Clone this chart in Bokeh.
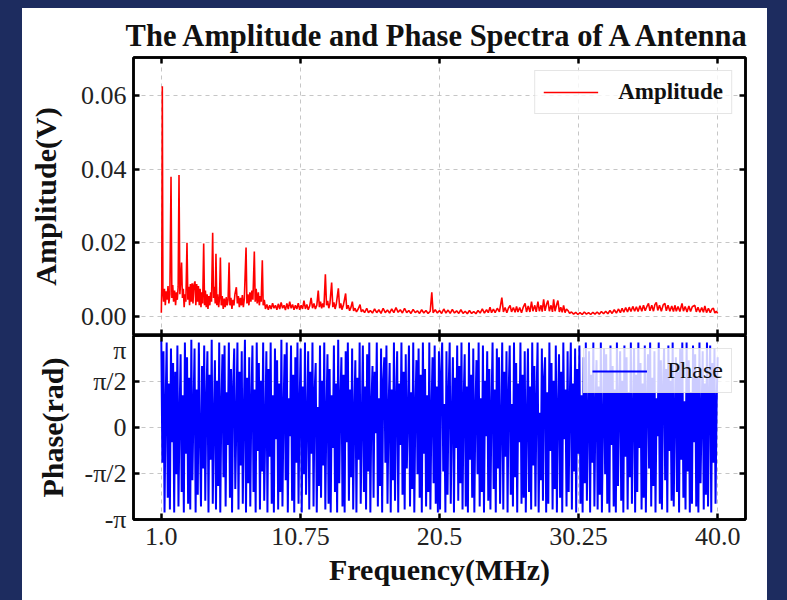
import math
import numpy as np
from bokeh.plotting import figure
from bokeh.models import Range1d, LinearAxis, FixedTicker, CustomJSTickFormatter
from bokeh.layouts import column
from bokeh.embed import file_html
from bokeh.resources import INLINE

# ---------------- data ----------------
title_text = "The Amplitude and Phase Spectra of A Antenna"

# amplitude spectrum, 1.0 - 8.3 MHz
amp_freq_a = [
    1.00, 1.03, 1.07, 1.11, 1.16, 1.22, 1.28, 1.34, 1.40, 1.47,
    1.53, 1.60, 1.68, 1.74, 1.80, 1.86, 1.93, 2.00, 2.06, 2.12,
    2.18, 2.24, 2.30, 2.36, 2.42, 2.48, 2.54, 2.60, 2.66, 2.72,
    2.80, 2.86, 2.92, 2.98, 3.04, 3.10, 3.16, 3.22, 3.28, 3.36,
    3.42, 3.48, 3.54, 3.60, 3.66, 3.72, 3.78, 3.84, 3.90, 3.97,
    4.03, 4.09, 4.15, 4.21, 4.27, 4.33, 4.40, 4.46, 4.52, 4.60,
    4.66, 4.72, 4.78, 4.83, 4.89, 4.95, 5.02, 5.08, 5.14, 5.20,
    5.27, 5.34, 5.41, 5.48, 5.55, 5.62, 5.68, 5.75, 5.81, 5.88,
    5.95, 6.02, 6.09, 6.16, 6.26, 6.33, 6.40, 6.47, 6.54, 6.61,
    6.68, 6.75, 6.82, 6.94, 7.00, 7.07, 7.14, 7.21, 7.28, 7.35,
    7.42, 7.52, 7.58, 7.65, 7.72, 7.80, 7.87, 7.94, 8.00, 8.08,
    8.14, 8.22, 8.30,
]
amp_vals_a = [
    0.0010, 0.0080, 0.0625, 0.0070, 0.0040, 0.0075, 0.0030, 0.0068, 0.0045, 0.0082,
    0.0035, 0.0060, 0.0379, 0.0050, 0.0085, 0.0040, 0.0070, 0.0030, 0.0065, 0.0045,
    0.0080, 0.0384, 0.0060, 0.0095, 0.0146, 0.0050, 0.0075, 0.0025, 0.0060, 0.0040,
    0.0200, 0.0045, 0.0080, 0.0030, 0.0088, 0.0040, 0.0090, 0.0035, 0.0085, 0.0095,
    0.0030, 0.0088, 0.0040, 0.0082, 0.0030, 0.0075, 0.0025, 0.0065, 0.0035, 0.0198,
    0.0030, 0.0070, 0.0025, 0.0060, 0.0020, 0.0055, 0.0030, 0.0065, 0.0040, 0.0227,
    0.0050, 0.0080, 0.0035, 0.0170, 0.0030, 0.0060, 0.0025, 0.0050, 0.0160, 0.0030,
    0.0055, 0.0020, 0.0048, 0.0025, 0.0052, 0.0030, 0.0045, 0.0146, 0.0030, 0.0050,
    0.0020, 0.0045, 0.0030, 0.0060, 0.0079, 0.0035, 0.0055, 0.0025, 0.0050, 0.0030,
    0.0058, 0.0025, 0.0048, 0.0187, 0.0035, 0.0060, 0.0030, 0.0065, 0.0040, 0.0070,
    0.0045, 0.0176, 0.0040, 0.0075, 0.0035, 0.0065, 0.0030, 0.0055, 0.0040, 0.0152,
    0.0030, 0.0045, 0.0020,
]

# amplitude spectrum, 8.4 - 15.5 MHz
amp_freq_b = [
    8.40, 8.50, 8.60, 8.70, 8.80, 8.90, 9.00, 9.10, 9.20, 9.30,
    9.40, 9.50, 9.60, 9.70, 9.80, 9.90, 10.00, 10.10, 10.20, 10.30,
    10.40, 10.50, 10.60, 10.70, 10.80, 10.90, 11.00, 11.10, 11.20, 11.30,
    11.40, 11.50, 11.60, 11.70, 11.80, 11.90, 12.00, 12.08, 12.16, 12.24,
    12.32, 12.40, 12.50, 12.58, 12.66, 12.74, 12.82, 12.94, 13.02, 13.10,
    13.18, 13.26, 13.41, 13.50, 13.58, 13.66, 13.76, 13.92, 14.00, 14.10,
    14.20, 14.30, 14.39, 14.48, 14.58, 14.68, 14.80, 14.93, 15.02, 15.12,
    15.25, 15.40, 15.52,
]
amp_vals_b = [
    0.0032, 0.0018, 0.0030, 0.0020, 0.0036, 0.0022, 0.0030, 0.0018, 0.0034, 0.0020,
    0.0038, 0.0022, 0.0030, 0.0017, 0.0035, 0.0020, 0.0040, 0.0022, 0.0032, 0.0018,
    0.0030, 0.0020, 0.0036, 0.0018, 0.0030, 0.0020, 0.0043, 0.0020, 0.0032, 0.0018,
    0.0028, 0.0050, 0.0022, 0.0035, 0.0020, 0.0030, 0.0070, 0.0025, 0.0040, 0.0022,
    0.0035, 0.0025, 0.0114, 0.0030, 0.0042, 0.0022, 0.0035, 0.0092, 0.0025, 0.0038,
    0.0020, 0.0032, 0.0076, 0.0022, 0.0035, 0.0018, 0.0030, 0.0062, 0.0020, 0.0030,
    0.0015, 0.0025, 0.0040, 0.0015, 0.0022, 0.0012, 0.0020, 0.0032, 0.0012, 0.0018,
    0.0010, 0.0022, 0.0010,
]

# amplitude spectrum, 15.6 - 29.9 MHz
amp_freq_c = [
    15.65, 15.80, 15.95, 16.10, 16.25, 16.40, 16.55, 16.70, 16.85, 17.00,
    17.15, 17.30, 17.45, 17.60, 17.75, 17.90, 18.05, 18.20, 18.35, 18.50,
    18.65, 18.80, 18.95, 19.10, 19.25, 19.40, 19.55, 19.70, 19.85, 19.96,
    20.05, 20.20, 20.35, 20.50, 20.65, 20.80, 20.95, 21.10, 21.25, 21.40,
    21.55, 21.70, 21.85, 22.00, 22.15, 22.30, 22.45, 22.60, 22.75, 22.90,
    23.05, 23.20, 23.35, 23.50, 23.65, 23.80, 23.92, 24.04, 24.15, 24.28,
    24.40, 24.55, 24.70, 24.87, 24.98, 25.10, 25.22, 25.33, 25.45, 25.55,
    25.68, 25.80, 25.90, 26.00, 26.12, 26.25, 26.38, 26.50, 26.60, 26.72,
    26.84, 26.95, 27.05, 27.18, 27.28, 27.40, 27.50, 27.62, 27.70, 27.80,
    27.90, 28.00, 28.10, 28.20, 28.32, 28.42, 28.50, 28.60, 28.70, 28.80,
    28.90, 29.00, 29.10, 29.20, 29.30, 29.40, 29.50, 29.62, 29.75, 29.90,
]
amp_vals_c = [
    0.0016, 0.0009, 0.0020, 0.0010, 0.0018, 0.0008, 0.0022, 0.0010, 0.0017, 0.0009,
    0.0020, 0.0010, 0.0024, 0.0011, 0.0018, 0.0009, 0.0022, 0.0010, 0.0016, 0.0008,
    0.0019, 0.0010, 0.0015, 0.0008, 0.0018, 0.0009, 0.0016, 0.0008, 0.0014, 0.0065,
    0.0010, 0.0018, 0.0009, 0.0016, 0.0008, 0.0020, 0.0009, 0.0017, 0.0008, 0.0019,
    0.0009, 0.0015, 0.0008, 0.0018, 0.0008, 0.0014, 0.0007, 0.0016, 0.0008, 0.0013,
    0.0007, 0.0016, 0.0009, 0.0020, 0.0009, 0.0018, 0.0010, 0.0025, 0.0010, 0.0020,
    0.0010, 0.0022, 0.0012, 0.0051, 0.0012, 0.0024, 0.0010, 0.0022, 0.0030, 0.0012,
    0.0024, 0.0011, 0.0027, 0.0012, 0.0024, 0.0010, 0.0026, 0.0035, 0.0012, 0.0028,
    0.0012, 0.0040, 0.0014, 0.0030, 0.0012, 0.0040, 0.0014, 0.0030, 0.0013, 0.0046,
    0.0015, 0.0032, 0.0043, 0.0014, 0.0030, 0.0012, 0.0046, 0.0014, 0.0030, 0.0043,
    0.0012, 0.0025, 0.0011, 0.0030, 0.0010, 0.0020, 0.0016, 0.0008, 0.0012, 0.0006,
]

# amplitude spectrum, 30.0 - 40.0 MHz
amp_freq_d = [
    30.05, 30.20, 30.35, 30.50, 30.65, 30.80, 30.95, 31.10, 31.25, 31.40,
    31.55, 31.70, 31.85, 32.00, 32.15, 32.30, 32.45, 32.60, 32.75, 32.90,
    33.05, 33.18, 33.30, 33.42, 33.55, 33.68, 33.80, 33.92, 34.05, 34.18,
    34.30, 34.42, 34.55, 34.68, 34.80, 34.92, 35.05, 35.15, 35.25, 35.38,
    35.50, 35.60, 35.70, 35.80, 35.92, 36.05, 36.18, 36.30, 36.40, 36.52,
    36.65, 36.78, 36.90, 37.00, 37.10, 37.22, 37.35, 37.50, 37.60, 37.72,
    37.85, 37.98, 38.10, 38.22, 38.40, 38.50, 38.62, 38.75, 38.88, 39.00,
    39.10, 39.22, 39.35, 39.48, 39.60, 39.70, 39.80, 39.90, 40.00,
]
amp_vals_d = [
    0.0011, 0.0005, 0.0010, 0.0005, 0.0012, 0.0006, 0.0010, 0.0005, 0.0011, 0.0006,
    0.0012, 0.0006, 0.0013, 0.0007, 0.0014, 0.0007, 0.0016, 0.0008, 0.0018, 0.0009,
    0.0020, 0.0010, 0.0022, 0.0011, 0.0024, 0.0012, 0.0025, 0.0013, 0.0027, 0.0014,
    0.0026, 0.0013, 0.0029, 0.0014, 0.0030, 0.0015, 0.0028, 0.0035, 0.0015, 0.0030,
    0.0014, 0.0032, 0.0038, 0.0016, 0.0030, 0.0014, 0.0031, 0.0035, 0.0015, 0.0030,
    0.0014, 0.0028, 0.0013, 0.0030, 0.0014, 0.0027, 0.0013, 0.0035, 0.0014, 0.0027,
    0.0012, 0.0028, 0.0013, 0.0026, 0.0030, 0.0012, 0.0025, 0.0011, 0.0024, 0.0011,
    0.0028, 0.0010, 0.0022, 0.0010, 0.0020, 0.0022, 0.0009, 0.0014, 0.0008,
]

# phase (rad), uniformly sampled, first half of the band (1.0 - 20.5 MHz)
phase_vals_a = [
    2.95, -1.2, 2.6, -2.9, 0.8, 2.9, -2.4, 1.5, -2.8, 2.7,
    -0.5, 2.2, -2.9, 1.9, -1.6, 2.8, -2.7, 0.4, 2.5, -2.2,
    1.1, -2.9, 2.9, -0.9, 2.4, -2.6, 1.7, -2.8, 3.0, -1.8,
    0.6, 2.7, -2.9, 1.3, -2.3, 2.9, -0.2, -2.7, 2.1, -1.4,
    2.8, -2.5, 0.9, 2.6, -2.9, 1.8, -1.1, 3.0, -2.6, 0.3,
    2.3, -2.8, 1.6, -2.0, 2.9, -2.9, 0.7, 2.5, -1.7, 2.8,
    -2.7, 1.2, -0.6, 2.9, -2.4, 2.0, -2.9, 1.4, 2.7, -2.1,
    0.2, 2.9, -2.8, 1.9, -1.3, 2.6, -2.6, 0.5, 3.0, -2.9,
    1.7, -1.9, 2.4, -2.7, 0.9, 2.8, -2.2, 1.3, -2.9, 2.9,
    -0.8, 2.2, -2.8, 1.6, -1.5, 2.9, -2.5, 0.1, 2.6, -2.9,
    2.0, -1.0, 2.9, -2.6, 1.1, -2.9, 2.7, -0.4, 2.3, -2.8,
    1.5, -2.2, 3.0, -2.7, 0.6, 2.5, -1.8, 2.9, -2.9, 1.0,
    -0.3, 2.8, -2.5, 1.8, -2.9, 2.4, -1.2, 2.9, -2.6, 0.8,
    2.7, -2.9, 1.4, -1.6, 2.9, -2.3, 0.3, 2.6, -2.8, 1.9,
    -0.9, 2.9, -2.7, 1.2, 2.2, -2.9, 0.7, -2.0, 2.8, -2.4,
    1.6, -1.3, 2.9, -2.8, 0.4, 2.5, -2.6, 2.0, -2.9, 1.1,
    -0.7, 2.8, -2.2, 1.5, -2.9, 3.0, -1.9, 0.9, 2.4, -2.7,
    1.8, -2.9, 2.6, -0.5, 2.9, -2.5, 1.3, -1.7, 2.7, -2.8,
    0.5, 2.3, -2.9, 1.7, -1.1, 2.9, -2.6, 0.2, 2.8, -2.2,
    1.4, -2.8, 2.5, -1.5, 2.9, -2.9, 0.8, 2.1, -2.4, 1.9,
    -0.2, 2.9, -2.7, 1.0, -2.0, 2.7, -2.9, 1.6, 2.4, -1.2,
    2.8, -2.6, 0.6, 2.2, -2.9, 1.3, -1.8, 2.9, -2.5, 0.9,
    2.6, -2.9, 1.5, -0.6, 2.9, -2.3, 1.9, -2.8, 2.5, -1.4,
    0.4, 2.8, -2.7, 1.2, -2.1, 2.9, -2.9, 0.7, 2.3, -1.6,
    2.7, -2.4, 1.8, -2.9, 2.9, -0.9, 2.0, -2.7, 1.1, -2.2,
    2.9, -2.8, 0.5, 2.4, -1.9, 2.8, -2.6, 1.4, -2.9, 2.6,
]
# phase (rad), second half of the band (20.5 - 40.0 MHz)
phase_vals_b = [
    -2.8, 1.9, 2.9, -1.5, 0.8, -2.9, 2.6, -2.3, 1.2, 2.9,
    -2.6, 0.4, 2.4, -2.9, 1.7, -0.7, 2.8, -2.5, 2.1, -1.9,
    2.9, -2.8, 0.9, 2.5, -2.7, 1.4, -2.9, 2.9, -1.1, 1.8,
    -2.4, 2.7, -2.9, 0.6, 2.3, -1.6, 2.9, -2.7, 1.0, -2.2,
    2.8, -2.9, 1.6, -0.3, 2.6, -2.5, 2.0, -2.8, 0.7, 2.9,
    -2.1, 1.3, -2.9, 2.7, -1.4, 2.4, -2.6, 0.2, 2.9, -2.8,
    1.9, -1.0, 2.6, -2.9, 1.1, 2.8, -2.3, 0.8, -2.7, 2.9,
    -1.7, 2.2, -2.9, 1.5, -0.5, 2.9, -2.6, 1.8, -2.4, 2.6,
    -2.9, 0.3, 2.7, -2.2, 1.4, -2.8, 2.9, -1.3, 2.1, -2.7,
    1.0, 2.9, -2.9, 0.5, -1.8, 2.7, -2.5, 1.7, 2.4, -2.9,
    1.2, -2.6, 2.9, -0.8, 2.2, -2.8, 1.6, -2.1, 2.8, -2.9,
    0.6, 2.5, -2.4, 1.9, -2.9, 2.9, -0.4, 1.3, -2.7, 2.6,
    -2.2, 0.9, 2.9, -2.8, 1.5, -1.5, 2.7, -2.9, 2.0, -0.9,
    2.8, -2.6, 1.1, -2.9, 2.4, -1.9, 2.9, -2.5, 0.4, 2.6,
    -2.9, 1.8, -1.2, 2.9, -2.7, 0.7, 2.3, -2.8, 1.4, -2.3,
    2.9, -2.9, 0.2, 2.7, -1.6, 2.5, -2.6, 1.9, -2.9, 2.8,
    -0.6, 2.1, -2.7, 1.3, -2.9, 2.9, -2.0, 0.8, 2.6, -2.5,
    1.6, -2.9, 2.8, -1.0, 2.4, -2.8, 1.2, -1.7, 2.9, -2.6,
    0.5, 2.7, -2.9, 1.8, -2.2, 2.9, -0.7, 2.2, -2.8, 1.5,
    -2.4, 2.8, -2.9, 0.9, 2.5, -1.4, 2.9, -2.7, 1.7, -2.0,
    2.6, -2.9, 1.0, -0.3, 2.9, -2.6, 2.3, -2.8, 1.4, 2.7,
    -1.8, 2.0, -2.9, 2.8, -0.8, 1.6, -2.5, 2.9, -2.7, 0.6,
    2.4, -2.2, 1.9, -2.9, 2.7, -1.1, 2.9, -2.4, 0.9, -2.8,
    2.9, -1.5, 2.3, -2.9, 1.2, -2.6, 2.8, -0.5, 2.5, -2.7,
    1.7, -2.9, 2.9, -1.9, 0.4, 2.6, -2.8, 1.5, -2.3, 2.9,
    -2.7, 1.1, 2.8, -2.9, 2.2, -1.2, 2.7, -2.6, 0.8, 2.4,
]
phase_freq_start = 1.0
phase_freq_stop = 40.0

xtick_vals = [1.0, 10.75, 20.5, 30.25, 40.0]
xtick_labels = ["1.0", "10.75", "20.5", "30.25", "40.0"]
amp_tick_vals = [0.0, 0.02, 0.04, 0.06]
phase_tick_vals = [-math.pi, -math.pi / 2, 0.0, math.pi / 2, math.pi]
phase_tick_labels = ["-π", "-π/2", "0", "π/2", "π"]

# ---------------- assemble ----------------
def join(fs, vs):
    n = min(len(fs), len(vs))
    return list(fs[:n]), list(vs[:n])

amp_freq, amp_vals = [], []
for fs, vs in ((amp_freq_a, amp_vals_a), (amp_freq_b, amp_vals_b),
               (amp_freq_c, amp_vals_c), (amp_freq_d, amp_vals_d)):
    f, v = join(fs, vs)
    amp_freq += f
    amp_vals += v

phase_vals = phase_vals_a + phase_vals_b
phase_freq = np.linspace(phase_freq_start, phase_freq_stop, len(phase_vals))

FONT = "Liberation Serif"
BG = "#1d2c5f"
TICK_FS = "26px"
LABEL_FS = "30px"

x_fmt = CustomJSTickFormatter(args=dict(vals=xtick_vals, labs=xtick_labels), code="""
for (let i = 0; i < vals.length; i++) { if (Math.abs(tick - vals[i]) < 1e-6) return labs[i]; }
return "";
""")
amp_fmt = CustomJSTickFormatter(code="return tick.toFixed(2);")
ph_fmt = CustomJSTickFormatter(args=dict(vals=phase_tick_vals, labs=phase_tick_labels), code="""
for (let i = 0; i < vals.length; i++) { if (Math.abs(tick - vals[i]) < 1e-6) return labs[i]; }
return "";
""")
blank_fmt = CustomJSTickFormatter(code="return '';")


def style_axis(ax, ticks, fmt, show):
    ax.ticker = FixedTicker(ticks=ticks)
    ax.axis_line_color = "black"
    ax.axis_line_width = 2.5
    ax.major_tick_in = 6
    ax.major_tick_out = 0
    ax.major_tick_line_width = 2.5
    ax.major_tick_line_color = "black"
    ax.minor_tick_line_color = None
    ax.major_label_text_font = FONT
    ax.major_label_text_color = "#222222"
    ax.major_label_text_font_size = TICK_FS
    if show:
        ax.formatter = fmt
        ax.major_label_standoff = 7
    else:
        ax.formatter = blank_fmt
        ax.major_label_standoff = 0


def make_fig(y_range, frame_h, top, bottom):
    p = figure(frame_width=612, frame_height=frame_h,
               x_range=Range1d(-0.95, 41.95), y_range=y_range,
               output_backend="svg", toolbar_location=None,
               min_border_left=111, min_border_right=22,
               min_border_top=top, min_border_bottom=bottom,
               background_fill_color="white", border_fill_color="white",
               outline_line_color="black", outline_line_width=2.5)
    p.add_layout(LinearAxis(), "above")
    p.add_layout(LinearAxis(), "right")
    for g in (p.xgrid[0], p.ygrid[0]):
        g.grid_line_color = "#b8b8b8"
        g.grid_line_dash = "4 4"
        g.grid_line_width = 1
        g.grid_line_alpha = 0.8
    return p


def style_label(ax, text, standoff):
    ax.axis_label = text
    ax.axis_label_text_font = FONT
    ax.axis_label_text_font_size = LABEL_FS
    ax.axis_label_text_font_style = "bold"
    ax.axis_label_text_color = "#111111"
    ax.axis_label_standoff = standoff


# amplitude panel
p1 = make_fig(Range1d(-0.0052, 0.0703), 278, 49, 0)
p1.line(amp_freq, amp_vals, line_color="#ff0000", line_width=1.6, legend_label="Amplitude")
style_axis(p1.below[0], xtick_vals, x_fmt, False)
style_axis(p1.above[0], xtick_vals, x_fmt, False)
style_axis(p1.left[0], amp_tick_vals, amp_fmt, True)
style_axis(p1.right[0], amp_tick_vals, amp_fmt, False)
p1.xgrid[0].ticker = FixedTicker(ticks=xtick_vals)
p1.ygrid[0].ticker = FixedTicker(ticks=amp_tick_vals)
style_label(p1.left[0], "Amplitude(V)", 16)
p1.title.text = title_text
p1.title.align = "center"
p1.title.text_font = FONT
p1.title.text_font_size = "30.5px"
p1.title.text_font_style = "bold"
p1.title.text_color = "#111111"
p1.title.standoff = 9

# phase panel
p2 = make_fig(Range1d(-math.pi, math.pi), 184, 0, 81)
p2.line(phase_freq, phase_vals, line_color="#0000ff", line_width=2.0, legend_label="Phase")
style_axis(p2.below[0], xtick_vals, x_fmt, True)
style_axis(p2.above[0], xtick_vals, x_fmt, False)
style_axis(p2.left[0], phase_tick_vals, ph_fmt, True)
style_axis(p2.right[0], phase_tick_vals, ph_fmt, False)
p2.xgrid[0].ticker = FixedTicker(ticks=xtick_vals)
p2.ygrid[0].ticker = FixedTicker(ticks=phase_tick_vals)
style_label(p2.left[0], "Phase(rad)", 12)
style_label(p2.below[0], "Frequency(MHz)", 5)
p2.below[0].major_label_standoff = 8

for p, weight, fs in ((p1, "bold", "23px"), (p2, "normal", "24px")):
    lg = p.legend[0]
    lg.location = "top_right"
    lg.margin = 13
    lg.padding = 8
    lg.glyph_width = 55
    lg.label_standoff = 20
    lg.label_text_font = FONT
    lg.label_text_font_size = fs
    lg.label_text_font_style = weight
    lg.label_text_color = "#111111"
    lg.border_line_color = "#cccccc"
    lg.border_line_width = 1
    lg.background_fill_alpha = 0.8

layout = column(p1, p2, spacing=0, margin=(8, 0, 0, 22),
                styles={"background-color": "white"})

html = file_html(layout, INLINE, title=title_text)
html = html.replace("</head>", "<style>html, body { background-color: %s !important; }</style></head>" % BG, 1)
open("out.html", "w").write(html)
